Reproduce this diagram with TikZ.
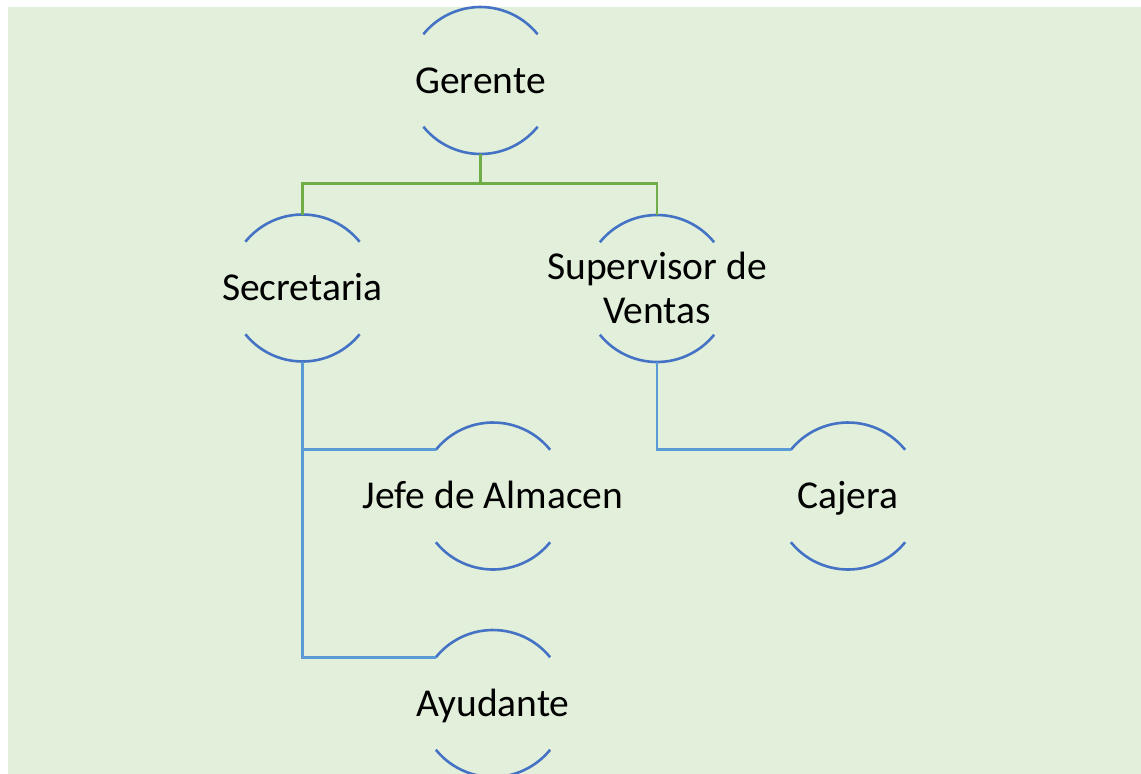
\documentclass[tikz,border=0pt]{standalone}
\usepackage{fontspec}
\setmainfont{Carlito}
\usetikzlibrary{calc}
\definecolor{bg}{HTML}{E2EFDA}
\definecolor{arcblue}{HTML}{4472C4}
\definecolor{lgreen}{HTML}{70AD47}
\definecolor{lblue}{HTML}{5B9BD5}
\begin{document}
\begin{tikzpicture}[x=1pt,y=1pt,
  unit/.style={circle,minimum size=147pt,inner sep=0pt,outer sep=0pt,draw=none},
  txt/.style={font=\fontsize{39.5}{44}\selectfont,inner sep=0pt,text height=25.5pt,text depth=0pt,align=center},
  arcline/.style={draw=arcblue,line width=2.6pt},
  gline/.style={draw=lgreen,line width=2.6pt},
  bline/.style={draw=lblue,line width=2.6pt}]
\useasboundingbox (0,0) rectangle (1141,-774);
\fill[white] (0,0) rectangle (1141,-774);
\fill[bg] (8,-7) rectangle (1141,-774);
% units
\node[unit] (ger) at (480.5,-80.5) {};
\node[unit] (sec) at (302.5,-288) {};
\node[unit] (sup) at (657,-288.5) {};
\node[unit] (jef) at (493,-496) {};
\node[unit] (caj) at (848,-496) {};
\node[unit] (ayu) at (493,-703.5) {};
% arcs
\foreach \n in {ger,sec,sup,jef,caj,ayu}{
  \draw[arcline] (\n.39) arc[start angle=39,end angle=141,radius=73.5pt];
  \draw[arcline] (\n.219) arc[start angle=219,end angle=321,radius=73.5pt];
}
% texts
\node[txt] (gerT) at (ger) {Gerente};
\node[txt] (secT) at (sec) {Secretaria};
\node[font=\fontsize{39.5}{44}\selectfont,inner sep=0pt,align=center] (supT) at ($(sup)+(0,0.5)$) {Supervisor de\\Ventas};
\node[txt] (jefT) at (jef) {Jefe de Almacen};
\node[txt] (cajT) at (caj) {Cajera};
\node[txt] (ayuT) at (ayu) {Ayudante};
% connectors
\coordinate (gj) at ($(ger.south)+(0,-29.5)$);
\draw[gline] (ger.south) -- (gj) -| (sec.north);
\draw[gline] (gj) -| (sup.north);
\draw[bline] (sec.south) |- (jef.141);
\draw[bline] (sec.south) |- (ayu.141);
\draw[bline] (sup.south) |- (caj.141);
\end{tikzpicture}
\end{document}
